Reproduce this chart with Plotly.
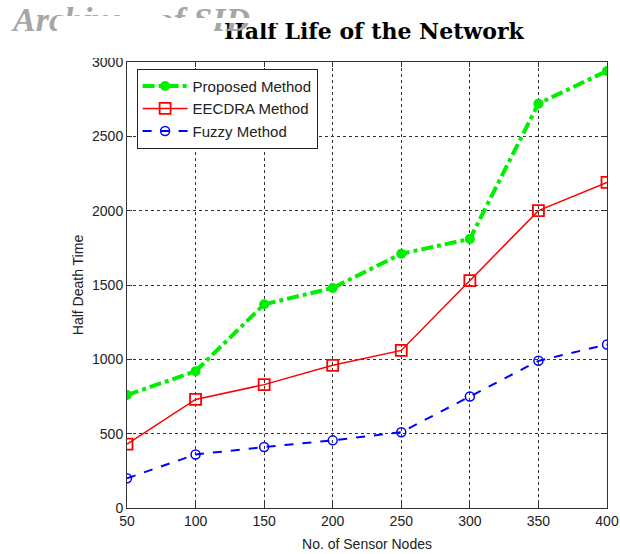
import plotly.graph_objects as go

nodes = [50, 100, 150, 200, 250, 300, 350, 400]
proposed = [760, 920, 1370, 1480, 1710, 1810, 2720, 2940]
eecdra = [430, 730, 830, 960, 1060, 1530, 2000, 2190]
fuzzy = [200, 360, 410, 455, 510, 750, 990, 1100]

x_ticks = [50, 100, 150, 200, 250, 300, 350, 400]
y_ticks = [0, 500, 1000, 1500, 2000, 2500, 3000]

FONT = "Liberation Sans Narrow, Arial Narrow, Liberation Sans, sans-serif"

L, R, T, B = 127, 13, 62, 46
W, H = 620, 554
PW, PH = W - L - R, H - T - B


def px(xp):
    return (xp - L) / PW


def py(yp):
    return 1 + (T - yp) / PH


fig = go.Figure()
fig.add_trace(go.Scatter(
    x=nodes, y=proposed, name="Proposed Method", mode="lines+markers",
    line=dict(color="#00ee00", width=4, dash="dashdot"),
    marker=dict(symbol="circle", size=10, color="#00ee00"),
))
fig.add_trace(go.Scatter(
    x=nodes, y=eecdra, name="EECDRA Method", mode="lines+markers",
    line=dict(color="#ff0000", width=1.5),
    marker=dict(symbol="square-open", size=11, color="#ff0000", line=dict(width=1.8)),
))
fig.add_trace(go.Scatter(
    x=nodes, y=fuzzy, name="Fuzzy Method", mode="lines+markers",
    line=dict(color="#0000ff", width=2, dash="dash"),
    marker=dict(symbol="circle-open", size=9, color="#0000ff", line=dict(width=1.5)),
))

axis_common = dict(
    showline=True, linecolor="#333333", linewidth=1, mirror="ticks",
    ticks="inside", ticklen=5, tickcolor="#333333",
    showgrid=True, gridcolor="#333333", griddash="dot", gridwidth=1,
    zeroline=False, automargin=False,
    tickfont=dict(family=FONT, size=14, color="#222222"),
)

fig.update_xaxes(range=[50, 400], tickvals=x_ticks,
                 title=dict(text="No. of Sensor Nodes", font=dict(family=FONT, size=14, color="#222222"), standoff=11),
                 **axis_common)
fig.update_yaxes(range=[0, 3000], tickvals=y_ticks,
                 title=dict(text="Half Death Time", font=dict(family=FONT, size=14, color="#222222"), standoff=5),
                 **axis_common)


def cover(x0, x1, y0, y1):
    return dict(text=" ", xref="paper", yref="paper", x=px(x0), y=py(y0),
                xanchor="left", yanchor="top", width=x1 - x0, height=y1 - y0,
                bgcolor="white", borderpad=0, borderwidth=0, showarrow=False)


fig.update_layout(
    width=W, height=H,
    margin=dict(l=L, r=R, t=T, b=B, autoexpand=False),
    paper_bgcolor="white", plot_bgcolor="white",
    showlegend=True,
    legend=dict(
        x=0.02, y=0.985, xanchor="left", yanchor="top",
        bgcolor="white", bordercolor="#222222", borderwidth=1,
        font=dict(family=FONT, size=15, color="#222222"),
        tracegroupgap=2, itemwidth=45,
    ),
    title=dict(text="<b>Half Life of the Network</b>", x=0.603, xanchor="center",
               y=1 - 31 / H, yanchor="middle",
               font=dict(family="DejaVu Serif, serif", size=22, color="black")),
    annotations=[
        dict(text="<b><i>Archive&nbsp;&nbsp;&nbsp;&nbsp;of SID</i></b>", xref="paper", yref="paper",
             x=px(9), y=py(20), xanchor="left", yanchor="middle", showarrow=False,
             font=dict(family="Liberation Serif, serif", size=34, color="#a6a6a6")),
        cover(57, 165, 16, 58),
        cover(165, 214, 18, 58),
        cover(214, 280, 18, 23),
    ],
)

fig.write_html("out.html")
